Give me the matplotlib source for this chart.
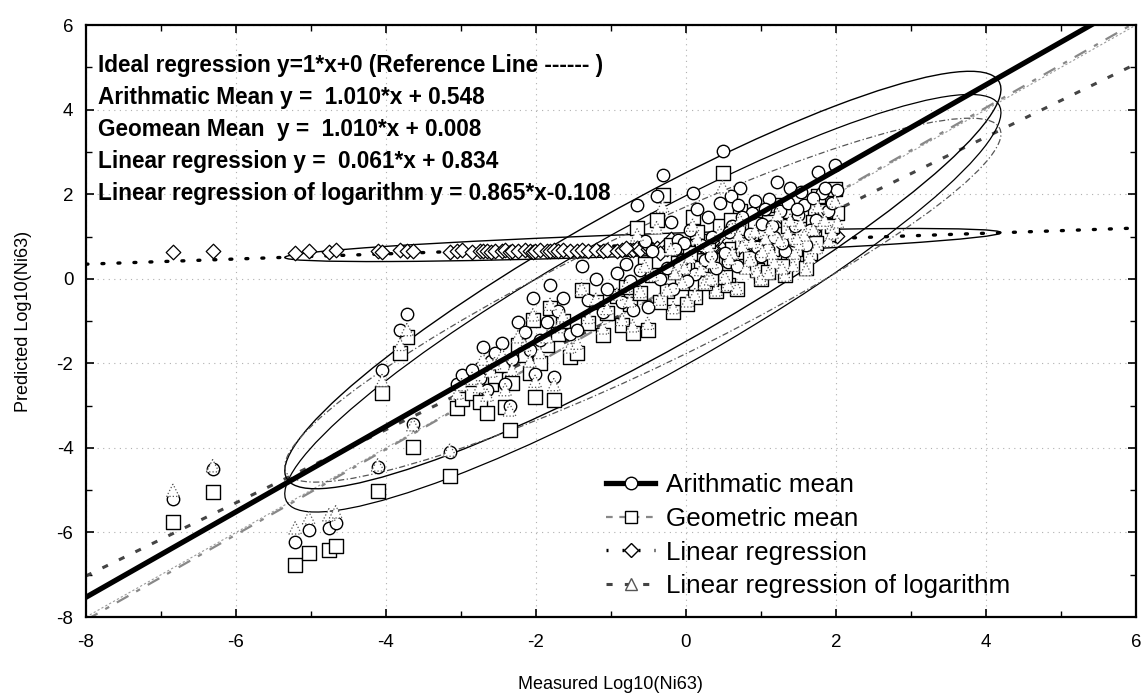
import numpy as np
import matplotlib
matplotlib.use("Agg")
import matplotlib.pyplot as plt
from matplotlib.patches import Ellipse
from matplotlib.lines import Line2D

plt.rcParams['font.family'] = ['Liberation Sans', 'DejaVu Sans']
plt.rcParams['axes.unicode_minus'] = False

# measured log10(Ni63) per sample and the four predictions
measured = [-6.84, -6.31, -5.21, -5.03, -4.76, -4.67, -4.11, -4.05, -3.81, -3.72,
            -3.64, -3.15, -3.05, -2.99, -2.85, -2.75, -2.71, -2.65, -2.60, -2.55,
            -2.45, -2.41, -2.35, -2.32, -2.24, -2.15, -2.08, -2.04, -2.01, -1.95,
            -1.85, -1.81, -1.76, -1.70, -1.64, -1.55, -1.45, -1.39, -1.30, -1.20,
            -1.11, -1.05, -0.92, -0.85, -0.75, -0.71, -0.65, -0.61, -0.51, -0.45,
            -0.39, -0.31, -0.25, -0.17, -0.11, -0.05, 0.05, 0.09, 0.12, 0.20,
            0.30, 0.40, 0.49, 0.56, 0.62, 0.72, 0.80, 0.88, 0.95, 1.02,
            1.11, 1.18, 1.25, 1.32, 1.39, 1.43, 1.50, 1.58, 1.65, 1.76,
            1.81, 1.90, 1.99, 2.02,
            -0.80, -0.55, -0.35, -0.20, -0.02, 0.02, 0.15, 0.25, 0.35, 0.45,
            0.52, 0.60, 0.68, 0.75, 0.85, 0.92, 1.00, 1.06, 1.15, 1.22,
            1.28, 1.36, 1.45, 1.53, 1.60, 1.70, 1.74, 1.85, 1.95, 0.70,
            1.10, 1.48, 0.33, -0.15, 0.58]

geo_pred = [-5.75, -5.04, -6.77, -6.48, -6.41, -6.32, -5.02, -2.70, -1.75, -1.38,
            -3.98, -4.66, -3.05, -2.85, -2.70, -2.91, -2.15, -3.17, -2.50, -2.30,
            -2.05, -3.03, -3.57, -2.46, -1.57, -1.80, -2.23, -0.97, -2.79, -2.00,
            -1.57, -0.69, -2.87, -1.30, -1.00, -1.85, -1.75, -0.26, -1.05, -0.55,
            -1.33, -0.80, -0.41, -1.10, -0.60, -1.28, 1.20, -0.34, -1.21, 0.10,
            1.39, 1.98, -0.30, -0.78, 0.37, -0.10, 0.60, 1.46, -0.43, 0.25,
            0.90, -0.30, 2.50, -0.15, 0.70, 1.60, 0.30, 1.00, 0.21, 0.75,
            1.34, 0.45, 1.05, 0.10, 1.60, 0.37, 0.95, 1.20, 0.60, 1.97,
            1.50, 1.05, 2.12, 1.55,
            -0.20, 0.35, -0.55, 0.80, 0.30, -0.60, 1.10, -0.10, 0.45, 1.25,
            0.05, 1.40, -0.25, 0.90, 0.50, 1.30, 0.00, 1.10, 0.70, 1.75,
            0.30, 1.25, 0.70, 1.50, 0.25, 1.35, 0.85, 1.60, 1.25, 1.20,
            0.15, 1.10, 0.00, 0.15, 0.55]

arith_pred = [-5.20, -4.50, -6.22, -5.94, -5.89, -5.77, -4.45, -2.15, -1.21, -0.83,
              -3.43, -4.09, -2.50, -2.27, -2.15, -2.35, -1.61, -2.62, -1.95, -1.75,
              -1.52, -2.48, -3.02, -1.90, -1.02, -1.25, -1.68, -0.45, -2.24, -1.45,
              -1.02, -0.15, -2.32, -0.75, -0.45, -1.30, -1.20, 0.30, -0.50, 0.00,
              -0.78, -0.25, 0.14, -0.55, -0.05, -0.73, 1.75, 0.21, -0.66, 0.65,
              1.95, 2.45, 0.25, -0.23, 0.92, 0.45, 1.15, 2.03, 0.12, 0.80,
              1.45, 0.25, 3.02, 0.40, 1.25, 2.15, 0.85, 1.55, 0.76, 1.30,
              1.89, 1.00, 1.60, 0.65, 2.15, 0.92, 1.50, 1.75, 1.15, 2.52,
              2.03, 1.60, 2.69, 2.10,
              0.35, 0.90, 0.00, 1.35, 0.85, -0.05, 1.65, 0.45, 1.00, 1.80,
              0.60, 1.95, 0.30, 1.45, 1.05, 1.85, 0.55, 1.65, 1.25, 2.30,
              0.85, 1.80, 1.25, 2.05, 0.80, 1.90, 1.40, 2.15, 1.80, 1.75,
              0.70, 1.65, 0.55, 0.70, 1.10]

logreg_pred = [-5.00, -4.42, -5.89, -5.65, -5.58, -5.51, -4.40, -2.40, -1.55, -1.20,
               -3.45, -4.05, -2.70, -2.50, -2.35, -2.55, -1.90, -2.75, -2.18, -2.00,
               -1.80, -2.62, -3.10, -2.14, -1.37, -1.57, -1.94, -0.85, -2.42, -1.74,
               -1.37, -0.60, -2.50, -1.13, -0.87, -1.61, -1.52, -0.23, -0.91, -0.48,
               -1.16, -0.70, -0.36, -0.96, -0.52, -1.11, 1.04, -0.30, -1.05, 0.09,
               1.21, 1.72, -0.26, -0.68, 0.32, -0.09, 0.52, 1.27, -0.37, 0.22,
               0.78, -0.26, 2.18, -0.13, 0.61, 1.39, 0.26, 0.87, 0.18, 0.65,
               1.17, 0.39, 0.91, 0.09, 1.39, 0.32, 0.83, 1.04, 0.52, 1.71,
               1.31, 0.91, 1.84, 1.35,
               -0.17, 0.30, -0.48, 0.70, 0.26, -0.52, 0.96, -0.09, 0.39, 1.09,
               0.04, 1.22, -0.22, 0.78, 0.44, 1.13, 0.00, 0.96, 0.61, 1.52,
               0.26, 1.09, 0.61, 1.31, 0.22, 1.17, 0.74, 1.39, 1.09, 1.04,
               0.13, 0.96, 0.00, 0.13, 0.48]

linreg_pred = [0.63, 0.66, 0.62, 0.66, 0.64, 0.67, 0.66, 0.64, 0.67, 0.65,
               0.66, 0.63, 0.65, 0.67, 0.64, 0.66, 0.65, 0.66, 0.64, 0.66,
               0.65, 0.67, 0.64, 0.66, 0.65, 0.67, 0.66, 0.64, 0.66, 0.68,
               0.65, 0.66, 0.67, 0.66, 0.68, 0.65, 0.66, 0.67, 0.66, 0.68,
               0.65, 0.67, 0.66, 0.68, 0.67, 0.69, 0.72, 0.68, 0.70, 0.71,
               0.73, 0.75, 0.70, 0.72, 0.74, 0.73, 0.78, 0.80, 0.76, 0.79,
               0.82, 0.80, 0.85, 0.83, 0.86, 0.88, 0.87, 0.90, 0.89, 0.92,
               0.93, 0.92, 0.95, 0.93, 0.96, 0.95, 0.97, 0.98, 0.97, 1.00,
               1.01, 1.00, 1.03, 1.02,
               0.72, 0.85, 0.62, 0.95, 0.80, 0.66, 1.05, 0.75, 0.88, 1.12,
               0.78, 1.15, 0.70, 0.98, 0.85, 1.10, 0.74, 1.05, 0.92, 1.22,
               0.80, 1.08, 0.90, 1.18, 0.78, 1.12, 0.95, 1.20, 1.10, 1.02,
               0.76, 1.06, 0.74, 0.78, 0.90]

# fitted lines (slope, intercept)
fits = {
    'arith': (1.010, 0.548),
    'geo': (1.010, 0.008),
    'lin': (0.061, 0.834),
    'log': (0.865, -0.108),
    'ref': (1.0, 0.0),
}

legend_labels = ['Arithmatic mean', 'Geometric mean', 'Linear regression',
                 'Linear regression of logarithm']

eq_lines = ['Ideal regression y=1*x+0 (Reference Line ------ )',
            'Arithmatic Mean y =  1.010*x + 0.548',
            'Geomean Mean  y =  1.010*x + 0.008',
            'Linear regression y =  0.061*x + 0.834',
            'Linear regression of logarithm y = 0.865*x-0.108']


def conf_ellipse(ax, x, y, **kw):
    x = np.asarray(x)
    y = np.asarray(y)
    cov = np.cov(x, y)
    vals, vecs = np.linalg.eigh(cov)
    order = vals.argsort()[::-1]
    vals, vecs = vals[order], vecs[:, order]
    angle = np.degrees(np.arctan2(vecs[1, 0], vecs[0, 0]))
    k = np.sqrt(5.991)   # 95 %
    w, h = 2 * k * np.sqrt(vals)
    e = Ellipse((x.mean(), y.mean()), w, h, angle=angle, fill=False, **kw)
    ax.add_patch(e)


fig = plt.figure(figsize=(11.43, 6.98), dpi=100)
ax = fig.add_axes([0.0752, 0.116, 0.9186, 0.848])

xs = np.array([-8.0, 6.0])

# regression lines
ax.plot(xs, fits['ref'][0] * xs + fits['ref'][1], color='#9a9a9a', lw=0.8,
        ls=(0, (2, 2)), zorder=2)
ax.plot(xs, fits['geo'][0] * xs + fits['geo'][1], color='#888888', lw=1.6,
        ls=(0, (6, 4, 2, 4)), zorder=2)
ax.plot(xs, fits['log'][0] * xs + fits['log'][1], color='#444444', lw=2.2,
        ls=(0, (2, 4)), zorder=2)
ax.plot(xs, fits['lin'][0] * xs + fits['lin'][1], color='black', lw=2.4,
        ls=(0, (0.6, 4.2)), dash_capstyle='round', zorder=2)
ax.plot(xs, fits['arith'][0] * xs + fits['arith'][1], color='black', lw=3.8,
        zorder=5)

# 95% ellipses
conf_ellipse(ax, measured, arith_pred, edgecolor='black', lw=1.0, zorder=3)
conf_ellipse(ax, measured, geo_pred, edgecolor='black', lw=0.9, zorder=3)
conf_ellipse(ax, measured, linreg_pred, edgecolor='black', lw=1.0, zorder=3)
conf_ellipse(ax, measured, logreg_pred, edgecolor='#555555', lw=0.9,
             ls=(0, (5, 2, 1, 2)), zorder=3)

# points
ax.scatter(measured, linreg_pred, marker='D', s=55, facecolor='white',
           edgecolor='black', lw=0.9, zorder=4)
ax.scatter(measured, geo_pred, marker='s', s=90, facecolor='white',
           edgecolor='black', lw=1.0, zorder=4)
ax.scatter(measured, arith_pred, marker='o', s=80, facecolor='white',
           edgecolor='black', lw=1.0, zorder=4)
ax.scatter(measured, logreg_pred, marker='^', s=80, facecolor='white',
           edgecolor='#555555', lw=0.9, ls=':', zorder=4)

ax.set_xlim(-8, 6)
ax.set_ylim(-8, 6)
ax.set_xticks(np.arange(-8, 7, 2))
ax.set_yticks(np.arange(-8, 7, 2))
ax.set_xticks(np.arange(-8, 7, 1), minor=True)
ax.set_yticks(np.arange(-8, 7, 1), minor=True)
ax.tick_params(which='both', direction='in', top=True, right=True,
               labelsize=13.5)
ax.tick_params(axis='x', pad=12)
ax.tick_params(axis='y', pad=9)
ax.tick_params(which='major', length=6, width=1.2)
ax.tick_params(which='minor', length=4, width=1.0)
ax.grid(True, which='major', color='#b0b0b0', ls=(0, (1, 4)), lw=0.8)
for s in ax.spines.values():
    s.set_linewidth(1.6)

ax.set_xlabel('Measured Log10(Ni63)', fontsize=13, labelpad=18)
ax.set_ylabel('Predicted Log10(Ni63)', fontsize=13, labelpad=18)

# equations block
for i, t in enumerate(eq_lines):
    ax.text(0.011, 0.932 - i * 0.054, t, transform=ax.transAxes,
            fontsize=16.3, fontweight='bold', va='center', ha='left', zorder=6)

# legend
handles = [
    Line2D([], [], color='black', lw=3.8, marker='o', markersize=9,
           markerfacecolor='white', markeredgecolor='black'),
    Line2D([], [], color='#888888', lw=1.6, ls=(0, (3, 3)), marker='s',
           markersize=9, markerfacecolor='white', markeredgecolor='black'),
    Line2D([], [], color='black', lw=2.4, ls=(0, (0.6, 4.2)), marker='D',
           markersize=7, markerfacecolor='white', markeredgecolor='black'),
    Line2D([], [], color='#444444', lw=2.2, ls=(0, (2, 4)), marker='^',
           markersize=9, markerfacecolor='white', markeredgecolor='#555555'),
]
ax.legend(handles, legend_labels, loc='lower left', bbox_to_anchor=(0.473, -0.008),
          frameon=False, fontsize=18.7, handlelength=1.9, labelspacing=0.38,
          handletextpad=0.4)

fig.savefig('out.png', dpi=100)
